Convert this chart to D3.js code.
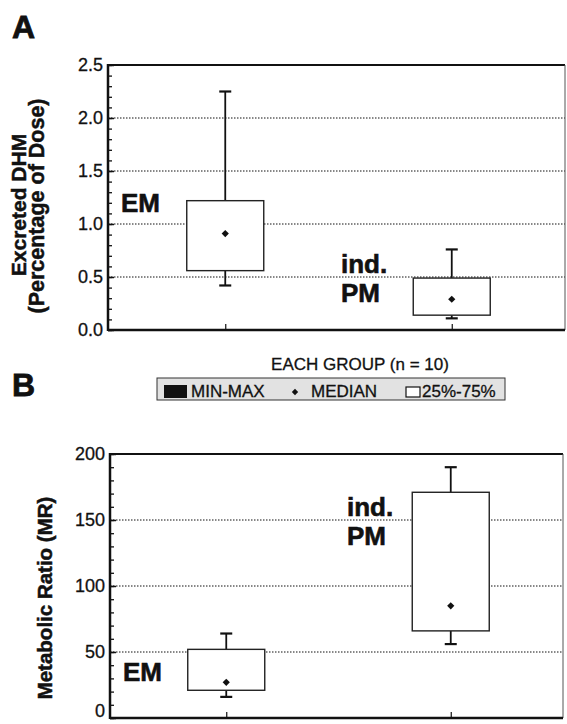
<!DOCTYPE html>
<html>
<head>
<meta charset="utf-8">
<script src="https://cdn.jsdelivr.net/npm/d3@7"></script>
<style>
  body { margin: 0; background: #fff; }
  text { font-family: "Liberation Sans", Arial, Helvetica, sans-serif; fill: #111; }
</style>
</head>
<body>
<div id="chart"></div>
<script>
const width = 567;
const height = 724;

// groups shown on both panels
const groups = ["EM", "ind. PM"];

// panel A: excreted DHM (% of dose)
const dhmMin = [0.42, 0.11];
const dhmQ1 = [0.56, 0.14];
const dhmMed = [0.91, 0.29];
const dhmQ3 = [1.22, 0.49];
const dhmMax = [2.25, 0.76];
const dhmTicks = [0, 0.5, 1.0, 1.5, 2.0, 2.5];

// panel B: metabolic ratio
const mrMin = [16, 56];
const mrQ1 = [21, 66];
const mrMed = [27, 85];
const mrQ3 = [52, 171];
const mrMax = [64, 190];
const mrTicks = [0, 50, 100, 150, 200];

const legendTitle = "EACH GROUP (n = 10)";
const legendLabels = ["MIN-MAX", "MEDIAN", "25%-75%"];

const svg = d3.select("#chart").append("svg")
  .attr("width", width)
  .attr("height", height);

svg.append("rect").attr("width", width).attr("height", height).attr("fill", "#fff");

// scanned print looks heavy, thicken glyphs a little
const heavy = (s, w) => s.attr("stroke", "#111").attr("stroke-width", w).attr("paint-order", "stroke");

const toRows = (mins, q1s, meds, q3s, maxs) =>
  groups.map((g, i) => ({ g, min: mins[i], q1: q1s[i], med: meds[i], q3: q3s[i], max: maxs[i] }));

function panel(opt) {
  const g = svg.append("g");
  const { left, right, top, bottom } = opt;

  const y = d3.scaleLinear().domain(opt.domain).range([bottom, top]);
  const x = d3.scalePoint().domain(groups).range([left + 4, right]).padding(0.5);

  // dotted grid at inner majors
  g.selectAll(".grid").data(opt.ticks.slice(1, -1)).join("line")
    .attr("x1", left).attr("x2", right)
    .attr("y1", d => y(d)).attr("y2", d => y(d))
    .attr("stroke", "#111").attr("stroke-width", 1)
    .attr("stroke-dasharray", "1.5,1.5");

  // minor ticks
  const minor = d3.range(opt.domain[0], opt.domain[1] + opt.minor / 2, opt.minor);
  g.append("g").attr("transform", `translate(${left},0)`)
    .call(d3.axisLeft(y).tickValues(minor).tickSize(-4).tickFormat(""))
    .call(s => s.select(".domain").remove())
    .call(s => s.selectAll("line").attr("stroke", "#111").attr("stroke-width", 1.3));

  // major ticks + labels
  g.append("g").attr("transform", `translate(${left},0)`)
    .call(d3.axisLeft(y).tickValues(opt.ticks).tickSize(-6).tickPadding(5).tickFormat(opt.fmt))
    .call(s => s.select(".domain").remove())
    .call(s => s.selectAll("line").attr("stroke", "#111").attr("stroke-width", 1.5))
    .call(s => s.selectAll("text").style("font-size", "18px").attr("fill", "#111")
      .attr("font-family", null).call(heavy, 0.3))
    .call(s => { if (opt.lowZero) s.selectAll("text").filter(d => d === 0).attr("dy", "-0.1em"); });

  // ticks at group positions on bottom axis
  g.append("g").attr("transform", `translate(0,${bottom})`)
    .call(d3.axisBottom(x).tickSize(-6).tickFormat(""))
    .call(s => s.select(".domain").remove())
    .call(s => s.selectAll("line").attr("stroke", "#111").attr("stroke-width", 1.2));

  // frame
  g.append("line").attr("x1", left).attr("x2", right).attr("y1", top).attr("y2", top)
    .attr("stroke", "#111").attr("stroke-width", 2);
  g.append("line").attr("x1", right).attr("x2", right).attr("y1", top).attr("y2", bottom)
    .attr("stroke", "#555").attr("stroke-width", 1);
  g.append("line").attr("x1", left).attr("x2", right).attr("y1", bottom).attr("y2", bottom)
    .attr("stroke", "#111").attr("stroke-width", 2.5);
  g.append("line").attr("x1", left).attr("x2", left).attr("y1", top - 1).attr("y2", bottom + 1)
    .attr("stroke", "#111").attr("stroke-width", 2.5);

  const boxes = g.selectAll(".box").data(opt.rows).join("g");
  const hw = 38.5;

  boxes.append("line")
    .attr("x1", d => x(d.g)).attr("x2", d => x(d.g))
    .attr("y1", d => y(d.q3)).attr("y2", d => y(d.max))
    .attr("stroke", "#111").attr("stroke-width", 1.8);
  boxes.append("line")
    .attr("x1", d => x(d.g)).attr("x2", d => x(d.g))
    .attr("y1", d => y(d.q1)).attr("y2", d => y(d.min))
    .attr("stroke", "#111").attr("stroke-width", 1.8);
  boxes.selectAll(".cap").data(d => [[d.g, d.max], [d.g, d.min]]).join("line")
    .attr("x1", d => x(d[0]) - 6).attr("x2", d => x(d[0]) + 6)
    .attr("y1", d => y(d[1])).attr("y2", d => y(d[1]))
    .attr("stroke", "#111").attr("stroke-width", 2.2);
  boxes.append("rect")
    .attr("x", d => x(d.g) - hw).attr("width", hw * 2)
    .attr("y", d => y(d.q3)).attr("height", d => y(d.q1) - y(d.q3))
    .attr("fill", "#fff").attr("stroke", "#222").attr("stroke-width", 1.4);
  boxes.append("path")
    .attr("d", d3.symbol(d3.symbolSquare, 26)())
    .attr("transform", d => `translate(${x(d.g)},${y(d.med)}) rotate(45)`)
    .attr("fill", "#111");

  // group annotations
  opt.notes.forEach(n => {
    g.append("text").attr("x", n[0]).attr("y", n[1]).text(n[2])
      .style("font-size", "26px").style("font-weight", "bold").call(heavy, 0.6);
  });

  // axis title lines
  opt.titles.forEach(t => {
    g.append("text")
      .attr("transform", `translate(${t[0]},${t[1]}) rotate(-90)`)
      .attr("text-anchor", "middle")
      .style("font-size", t[3] + "px").style("font-weight", "bold")
      .text(t[2]).call(heavy, 0.5);
  });

  svg.append("text").attr("x", 12).attr("y", opt.letter[1]).text(opt.letter[0])
    .style("font-size", "32px").style("font-weight", "bold").call(heavy, 0.8);
}

panel({
  left: 108, right: 565, top: 65, bottom: 330,
  domain: [0, 2.5], ticks: dhmTicks, minor: 0.1, fmt: d3.format(".1f"),
  rows: toRows(dhmMin, dhmQ1, dhmMed, dhmQ3, dhmMax),
  notes: [[121, 212, "EM"], [341, 273, "ind."], [341, 302, "PM"]],
  titles: [[26, 205, "Excreted DHM", 21], [44, 206, "(Percentage of Dose)", 21.5]],
  letter: ["A", 38]
});

panel({
  left: 110, right: 563, top: 454, bottom: 718,
  domain: [0, 200], ticks: mrTicks, minor: 10, fmt: d3.format("d"), lowZero: true,
  rows: toRows(mrMin, mrQ1, mrMed, mrQ3, mrMax),
  notes: [[123, 681, "EM"], [347, 516, "ind."], [347, 545, "PM"]],
  titles: [[52, 598, "Metabolic Ratio (MR)", 20.5]],
  letter: ["B", 396]
});

// legend between the panels
const lg = svg.append("g");
lg.append("text").attr("x", 360).attr("y", 370).attr("text-anchor", "middle")
  .style("font-size", "17px").text(legendTitle).call(heavy, 0.3);
lg.append("rect").attr("x", 157).attr("y", 378).attr("width", 348).attr("height", 22)
  .attr("fill", "#e2e2e2").attr("stroke", "#333").attr("stroke-width", 1);
lg.append("rect").attr("x", 164).attr("y", 385).attr("width", 23).attr("height", 13).attr("fill", "#111");
lg.append("path").attr("d", d3.symbol(d3.symbolSquare, 20)())
  .attr("transform", "translate(295,392) rotate(45)").attr("fill", "#111");
lg.append("rect").attr("x", 406).attr("y", 387).attr("width", 14).attr("height", 10)
  .attr("fill", "#fff").attr("stroke", "#111").attr("stroke-width", 1.2);
const lx = [191, 311, 422];
lg.selectAll(".lt").data(legendLabels).join("text")
  .attr("x", (d, i) => lx[i]).attr("y", 397)
  .style("font-size", "17px").text(d => d).call(heavy, 0.3);
</script>
</body>
</html>
